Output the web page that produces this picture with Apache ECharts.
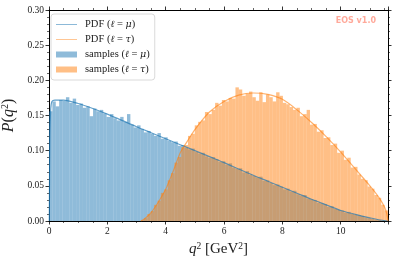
<!DOCTYPE html>
<html><head><meta charset="utf-8">
<script src="https://cdn.jsdelivr.net/npm/echarts@6/dist/echarts.min.js"></script>
<style>html,body{margin:0;padding:0;background:#fff}#c{width:399px;height:264px}</style>
</head><body><div id="c"></div>
<script>
// histogram binning
const BIN_MIN = 0, BIN_MAX = 11.62, N_BINS = 100;
const xTicks = [0, 2, 4, 6, 8, 10];
const yTicks = [0.00, 0.05, 0.10, 0.15, 0.20, 0.25, 0.30];

// samples (l = mu), one value per bin
const samplesMu = [0.156,0.170,0.163,0.172,0.171,0.176,0.168,0.174,0.165,0.167,
0.161,0.163,0.149,0.160,0.156,0.158,0.153,0.148,0.152,0.146,
0.143,0.148,0.141,0.152,0.137,0.133,0.136,0.131,0.126,0.128,
0.124,0.121,0.125,0.117,0.119,0.114,0.112,0.113,0.107,0.108,
0.104,0.102,0.103,0.098,0.096,0.097,0.092,0.090,0.091,0.088,
0.084,0.085,0.080,0.082,0.076,0.074,0.075,0.069,0.071,0.066,
0.064,0.062,0.063,0.057,0.058,0.054,0.051,0.052,0.049,0.045,
0.046,0.042,0.043,0.038,0.036,0.037,0.032,0.031,0.030,0.026,
0.025,0.024,0.020,0.021,0.017,0.016,0.015,0.012,0.013,0.010,
0.009,0.008,0.007,0.005,0.004,0.003,0.002,0.0015,0.0008,0.0002];

// samples (l = tau), one value per bin
const samplesTau = [0,0,0,0,0,0,0,0,0,0,
0,0,0,0,0,0,0,0,0,0,
0,0,0,0,0,0,0,0.001,0.004,0.010,
0.014,0.023,0.029,0.040,0.045,0.058,0.068,0.083,0.091,0.105,
0.108,0.121,0.124,0.136,0.141,0.143,0.155,0.152,0.158,0.168,
0.164,0.172,0.170,0.175,0.174,0.190,0.187,0.178,0.181,0.184,
0.176,0.171,0.183,0.169,0.180,0.176,0.170,0.183,0.178,0.168,
0.166,0.162,0.158,0.161,0.149,0.152,0.158,0.137,0.138,0.127,
0.129,0.118,0.119,0.108,0.110,0.097,0.100,0.087,0.090,0.076,
0.077,0.066,0.060,0.058,0.049,0.046,0.037,0.033,0.023,0.015];

// PDF curves [q2, P]
const pdfMuQ2 = [0.011,0.03,0.06,0.1,0.2,0.5,1,1.5,2,2.5,3,3.5,4,4.5,5,5.5,6,6.5,7,7.5,8,8.5,9,9.5,10,10.5,11,11.3,11.62];
const pdfMuP  = [0,0.12,0.160,0.170,0.172,0.172,0.167,0.160,0.152,0.143,0.134,0.1255,0.117,0.1085,0.100,0.0915,0.083,0.074,0.065,0.0565,0.048,0.0395,0.031,0.023,0.015,0.0095,0.0045,0.0018,0];
const pdfTauQ2 = [3.157,3.3,3.5,3.75,4,4.25,4.5,4.75,5,5.5,6,6.5,7,7.5,8,8.5,9,9.5,10,10.5,11,11.3,11.5,11.58,11.62];
const pdfTauP  = [0,0.004,0.012,0.027,0.045,0.070,0.097,0.114,0.130,0.155,0.170,0.179,0.182,0.180,0.173,0.158,0.140,0.120,0.098,0.074,0.050,0.034,0.020,0.010,0];

const w = (BIN_MAX - BIN_MIN) / N_BINS;
const toBins = arr => arr.map((h, i) => [BIN_MIN + i*w, BIN_MIN + (i+1)*w, h]).filter(d => d[2] > 0);
const zip = (a, b) => a.map((x, i) => [x, b[i]]);

const serif = "'Liberation Serif','DejaVu Serif',serif";
const renderBar = (params, api) => {
  const p0 = api.coord([api.value(0), api.value(2)]);
  const p1 = api.coord([api.value(1), 0]);
  return { type: 'rect', shape: { x: p0[0], y: p0[1], width: p1[0]-p0[0], height: p1[1]-p0[1] },
    style: { fill: api.visual('color') } };
};

const chart = echarts.init(document.getElementById('c'), null, {renderer: 'canvas'});
const axisCommon = {
  type: 'value', splitLine: {show: false},
  axisLine: {show: true, onZero: false, lineStyle: {color: '#000', width: 1}},
  axisTick: {show: true, inside: false, length: 3.5, lineStyle: {color: '#000', width: 0.8}},
  minorTick: {show: true, length: 2, lineStyle: {color: '#000', width: 0.6}},
};
chart.setOption({
  animation: false,
  grid: {left: 49, right: 11, top: 10, bottom: 43, containLabel: false, outerBoundsMode: 'none'},
  xAxis: [
    Object.assign({}, axisCommon, {min: BIN_MIN, max: BIN_MAX, interval: xTicks[1]-xTicks[0], position: 'bottom',
      minorTick: Object.assign({}, axisCommon.minorTick, {splitNumber: 4}),
      axisLabel: {fontFamily: serif, fontSize: 9.5, color: '#222', margin: 5, showMaxLabel: false,
        formatter: v => xTicks.includes(v) ? String(v) : ''},
      name: '{i|q}{s|2}{r| [GeV}{s|2}{r|]}', nameLocation: 'middle', nameGap: 20,
      nameTextStyle: {rich: {i: {fontFamily: serif, fontStyle: 'italic', fontSize: 15, color: '#222'},
        r: {fontFamily: serif, fontSize: 15, color: '#222'},
        s: {fontFamily: serif, fontSize: 9.5, color: '#222', verticalAlign: 'top', padding: [0,0,7,0]}}}}),
    Object.assign({}, axisCommon, {min: BIN_MIN, max: BIN_MAX, interval: 2, position: 'top',
      minorTick: Object.assign({}, axisCommon.minorTick, {splitNumber: 4}), axisLabel: {show: false}})
  ],
  yAxis: [
    Object.assign({}, axisCommon, {min: 0, max: 0.30, interval: 0.05, position: 'left',
      minorTick: Object.assign({}, axisCommon.minorTick, {splitNumber: 5}),
      axisLabel: {fontFamily: serif, fontSize: 9.5, color: '#222', margin: 5, formatter: v => v.toFixed(2)},
      name: '{i|P}{r|(}{i|q}{s|2}{r|)}', nameLocation: 'middle', nameGap: 29, nameRotate: 90,
      nameTextStyle: {rich: {i: {fontFamily: serif, fontStyle: 'italic', fontSize: 16, color: '#222'},
        r: {fontFamily: serif, fontSize: 16, color: '#222'},
        s: {fontFamily: serif, fontSize: 10, color: '#222', padding: [0,0,7,0]}}}}),
    Object.assign({}, axisCommon, {min: 0, max: 0.30, interval: 0.05, position: 'right',
      minorTick: Object.assign({}, axisCommon.minorTick, {splitNumber: 5}), axisLabel: {show: false}})
  ],
  legend: {
    orient: 'vertical', left: 51, top: 14, padding: [5, 5, 5, 5], itemGap: 4,
    backgroundColor: 'rgba(255,255,255,0.85)', borderColor: '#d0d0d0', borderWidth: 0.8, borderRadius: 3,
    itemWidth: 21, itemHeight: 6,
    data: [
      {name: 'PDF mu', icon: 'path://M0,0 L40,0 L40,1.4 L0,1.4 Z', itemStyle: {color: 'rgba(31,119,180,0.7)'}},
      {name: 'PDF tau', icon: 'path://M0,0 L40,0 L40,1.4 L0,1.4 Z', itemStyle: {color: 'rgba(255,127,14,0.6)'}},
      {name: 'samples mu', icon: 'rect'},
      {name: 'samples tau', icon: 'rect'}
    ],
    formatter: n => {
      const kind = n.startsWith('PDF') ? 'PDF' : 'samples';
      const g = n.endsWith('mu') ? 'μ' : 'τ';
      return `{r|${kind} (}{i|ℓ}{r| = }{i|${g}}{r|)}`;
    },
    textStyle: {padding: [0, 0, 0, 3], rich: {r: {fontFamily: serif, fontSize: 10.5, color: '#222', height: 11},
      i: {fontFamily: "'DejaVu Serif',serif", fontStyle: 'italic', fontSize: 9.5, color: '#222', height: 11}}}
  },
  graphic: [{type: 'text', right: 23, top: 17, style: {text: 'EOS v1.0', fill: 'rgba(255,99,71,0.55)',
    font: "bold 8px 'DejaVu Sans',sans-serif"}}],
  series: [
    {name: 'samples mu', type: 'custom', renderItem: renderBar, data: toBins(samplesMu),
      itemStyle: {color: 'rgba(31,119,180,0.5)'}, encode: {x: [0, 1], y: 2}, z: 2},
    {name: 'samples tau', type: 'custom', renderItem: renderBar, data: toBins(samplesTau),
      itemStyle: {color: 'rgba(255,127,14,0.5)'}, encode: {x: [0, 1], y: 2}, z: 3},
    {name: 'PDF mu', type: 'line', data: zip(pdfMuQ2, pdfMuP), smooth: 0.3, symbol: 'none',
      lineStyle: {color: 'rgba(31,119,180,0.7)', width: 1.2}, itemStyle: {color: 'rgba(31,119,180,0.7)'}, z: 5},
    {name: 'PDF tau', type: 'line', data: zip(pdfTauQ2, pdfTauP), smooth: 0.3, symbol: 'none',
      lineStyle: {color: 'rgba(255,127,14,0.6)', width: 1.2}, itemStyle: {color: 'rgba(255,127,14,0.6)'}, z: 5}
  ]
});
</script></body></html>
